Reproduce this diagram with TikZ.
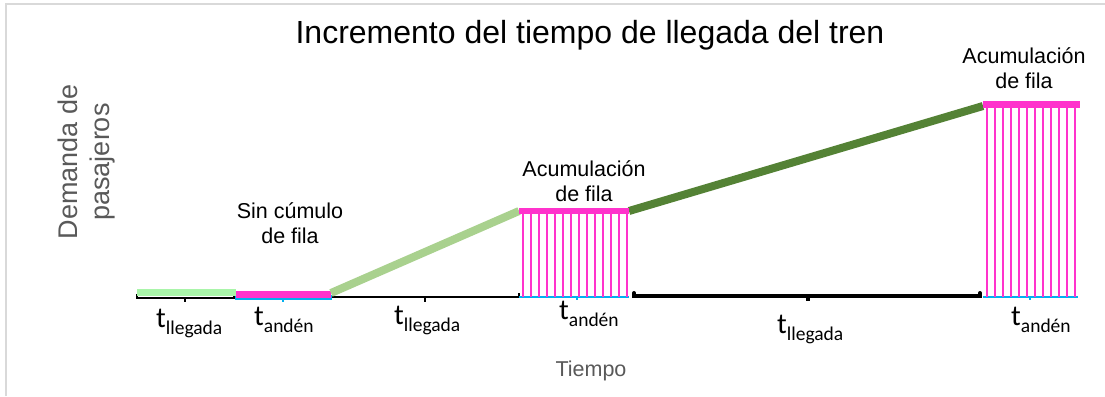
\documentclass[tikz,border=0pt]{standalone}
\usepackage{fontspec}
\setmainfont{Liberation Sans}
\newfontfamily\calfont{Carlito}
\definecolor{frameg}{HTML}{D9D9D9}
\definecolor{txtg}{HTML}{595959}
\definecolor{lgreen}{HTML}{A9F5A9}
\definecolor{mgreen}{HTML}{A9D18E}
\definecolor{dgreen}{HTML}{548235}
\definecolor{mag}{HTML}{FF33CC}
\definecolor{blu}{HTML}{00B0F0}
\newcommand{\tlab}[1]{{\calfont\fontsize{29}{29}\selectfont t\raisebox{-7pt}{\fontsize{19.5}{19.5}\selectfont #1}}}
\tikzset{
  bar/.style={line width=7pt},
  ramp/.style={line width=8pt},
  qline/.style={mag, line width=1.6pt},
  brace/.style={line width=#1, line join=miter},
  lab/.style={inner sep=0pt, anchor=base west},
  note/.style={align=center, font=\fontsize{21.5}{25}\selectfont, inner sep=0pt}
}
\begin{document}
\begin{tikzpicture}[x=1pt,y=-1pt]
\useasboundingbox (0,0) rectangle (1105,396);
% frame
\draw[frameg, line width=2pt] (6,396) -- (6,4) -- (1105,4);
% title
\node[inner sep=0pt, font=\fontsize{32}{32}\selectfont] (title) at (590,35) {Incremento del tiempo de llegada del tren};
% axis labels
\node[rotate=90, align=center, text=txtg, inner sep=0pt, font=\fontsize{27}{32}\selectfont] (ylab) at (87,162) {Demanda de\\pasajeros};
\node[text=txtg, inner sep=0pt, font=\fontsize{21.5}{21.5}\selectfont] (xlab) at (591,371) {Tiempo};

% coordinates
\coordinate (a0) at (137,292);
\coordinate (a1) at (236,292);
\coordinate (b0) at (236,294);
\coordinate (b1) at (331,294);
\coordinate (c0) at (331,293);
\coordinate (c1) at (519,211);
\coordinate (d0) at (519,211);
\coordinate (d1) at (629,211);
\coordinate (e0) at (629,211);
\coordinate (e1) at (983,106);
\coordinate (f0) at (983,104.5);
\coordinate (f1) at (1080,104.5);

% braces
\draw[brace=2pt] (137,294) -- (137,298) -- (234,298) -- (234,294);
\draw[brace=2pt] (185,298) -- (185,302);
\draw[blu, line width=1.5pt] (236,295) -- (236,299) -- (331,299) -- (331,295);
\draw[blu, line width=1.5pt] (283,299) -- (283,302);
\draw[brace=2pt] (333,294) -- (333,297) -- (519,297) -- (519,293);
\draw[brace=2pt] (425,297) -- (425,302);
\draw[blu, line width=1.5pt] (519,297) -- (629,297);
\draw[blu, line width=1.5pt] (577,297) -- (577,300);
\draw[brace=4pt, line cap=round] (634,293) -- (634,296) -- (980,296) -- (980,293);
\draw[line width=4pt] (808,296) -- (808,301);
\draw[blu, line width=1.5pt] (983,297) -- (1078,297);
\draw[blu, line width=1.5pt] (1030,297) -- (1030,299.5);

% queue verticals
\foreach \i in {0,...,13} { \draw[qline] (523+8*\i,211) -- (523+8*\i,297); }
\foreach \i in {0,...,11} { \draw[qline] (987+8*\i,104) -- (987+8*\i,297); }

% bars and ramps
\draw[lgreen, bar] (a0) -- (a1);
\draw[mag, bar] (b0) -- (b1);
\draw[mgreen, ramp] (c0) -- (c1);
\draw[dgreen, ramp] (e0) -- (e1);
\draw[mag, line width=6.5pt] (d0) -- (d1);
\draw[mag, bar] (f0) -- (f1);

% notes
\node[note] (n1) at (290,223) {Sin cúmulo\\de fila};
\node[note] (n2) at (584,181) {Acumulación\\de fila};
\node[note] (n3) at (1024,68) {Acumulación\\de fila};

% time labels
\node[lab] (l1) at (156,327) {\tlab{llegada}};
\node[lab] (l2) at (254,325) {\tlab{andén}};
\node[lab] (l3) at (394,324) {\tlab{llegada}};
\node[lab] (l4) at (559,319) {\tlab{andén}};
\node[lab] (l5) at (777,333) {\tlab{llegada}};
\node[lab] (l6) at (1011,325) {\tlab{andén}};
\end{tikzpicture}
\end{document}
